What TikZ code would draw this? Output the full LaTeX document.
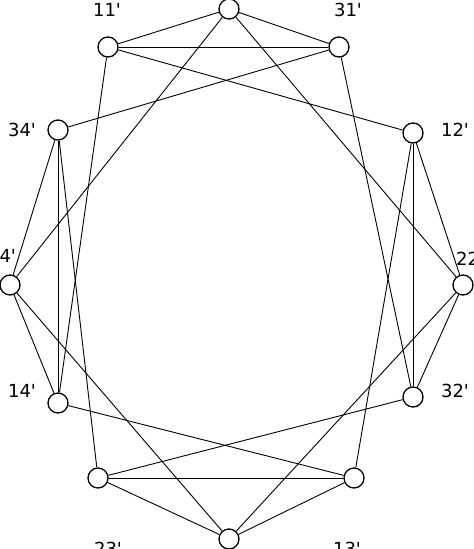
\documentclass[tikz,border=0pt]{standalone}
\usepackage{fontspec}
\setmainfont{DejaVu Sans}
\usetikzlibrary{calc}
\newcommand{\ap}{\textquotesingle}
\tikzset{
  vtx/.style={circle, draw, line width=1.3pt, fill=white, minimum size=20pt, inner sep=0pt},
  lbl/.style={font=\fontsize{18}{18}\selectfont, inner sep=0pt},
  edge/.style={line width=0.9pt}
}
\begin{document}
\begin{tikzpicture}[x=1pt,y=-1pt]
    \useasboundingbox (0,0) rectangle (474,549);

    % Vertices
    \foreach \n/\x/\y in {top/229/9, n11/108/47, n31/339/47, n34/58/130, n12/413/133,
        n24/10/285, n22/463/285, n14/58/403, n32/413/397, n23/98/478, n13/354/478, bot/229/539} {
        \node[vtx] (\n) at (\x,\y) {};
    }

    % Labels
    \foreach \n/\x/\y/\t in {l11/107/10/11, l31/348/10/31, l34/22/130/34, l12/455/130/12,
        l24/2/256/24, l22/470/259/22, l14/22/391/14, l32/455/391/32, l23/108/549/23, l13/347/549/13} {
        \node[lbl] (\n) at (\x,\y) {\t\ap};
    }

    % Edges
    \foreach \a/\b in {top/n11, top/n31, top/n24, top/n22,
        n11/n31, n11/n12, n11/n14,
        n31/n34, n31/n32,
        n34/n24, n34/n14, n34/n23,
        n12/n22, n12/n32, n12/n13,
        n24/n14, n24/bot,
        n22/n32, n22/bot,
        n14/n13, n32/n23,
        n23/n13, n23/bot, n13/bot} {
        \draw[edge] (\a) -- (\b);
    }
\end{tikzpicture}
\end{document}
